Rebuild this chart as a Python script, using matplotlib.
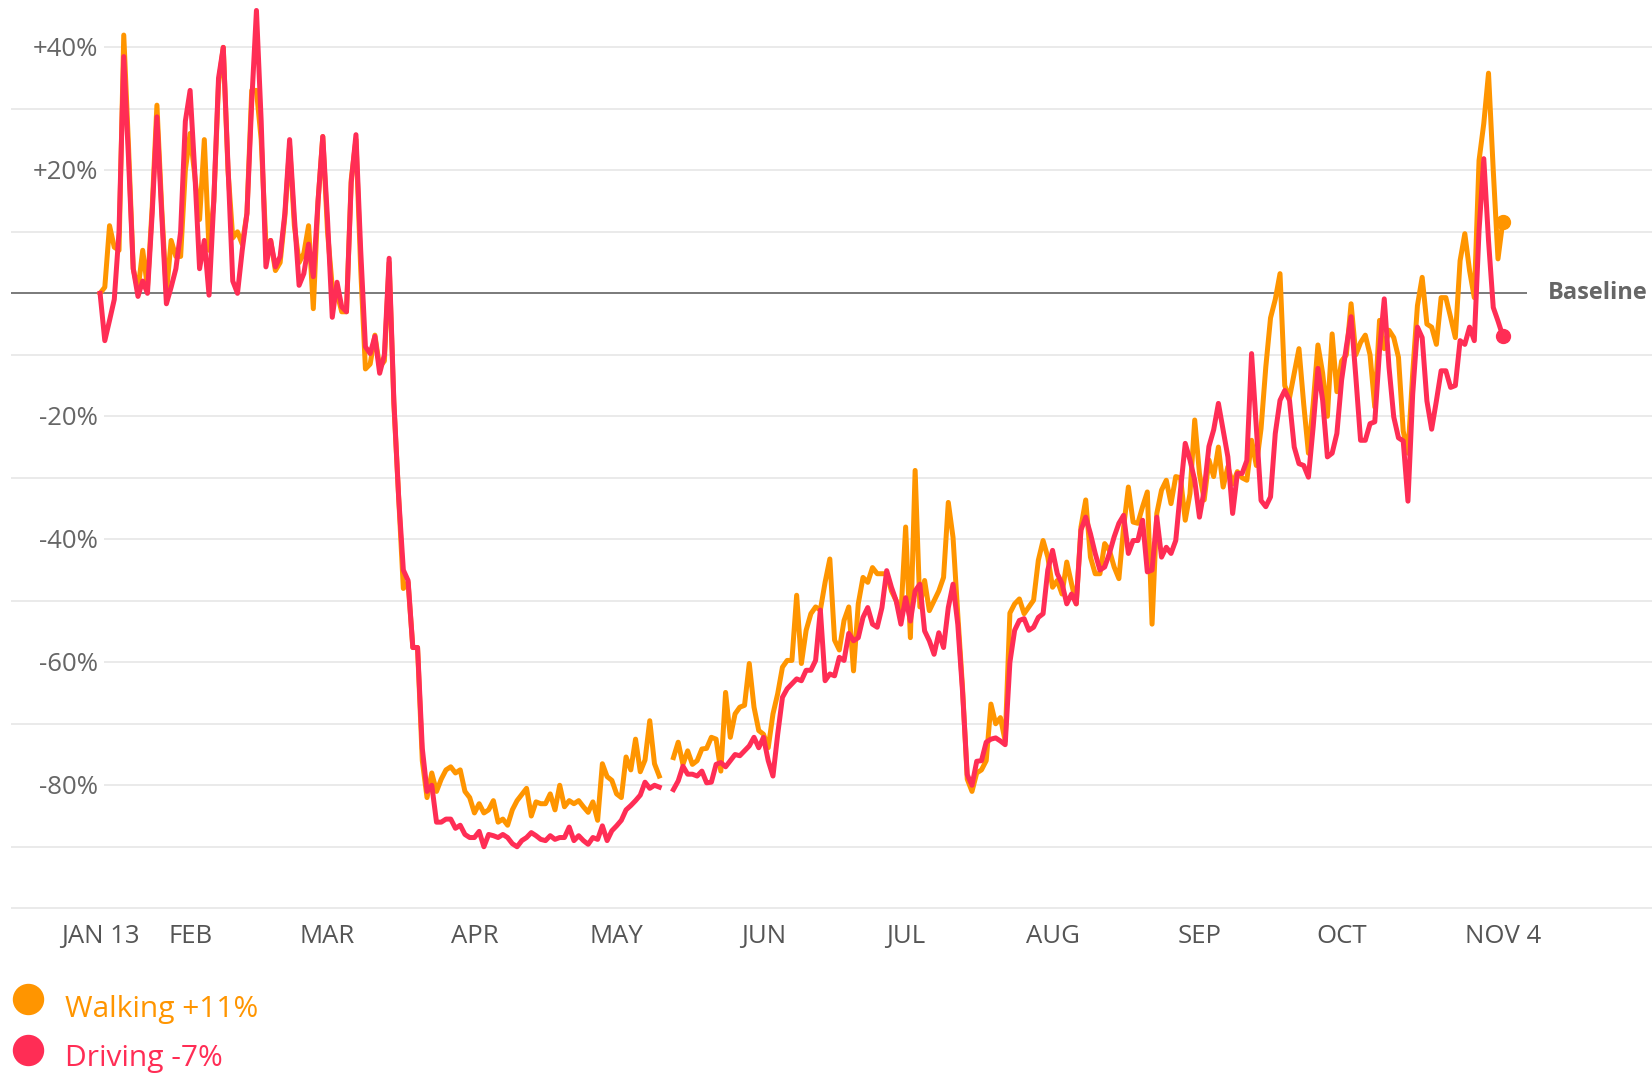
import numpy as np
import pandas as pd
import matplotlib
matplotlib.use('Agg')
import matplotlib.pyplot as plt
from matplotlib import transforms
from matplotlib.lines import Line2D

plt.rcParams['font.family'] = ['Open Sans', 'DejaVu Sans']

# === DATA: daily change vs. baseline (Jan 13), in % === #
inicio = '2020-01-13'
nan = np.nan

caminhada = [
    0, 1, 11, 7.5, 7, 42, 24, 4, 0.5, 7,                               # 0
    1, 14, 30.6, 14, 0, 8.6, 6, 6, 20, 26,                             # 10
    19, 12, 25, 7, 15, 34, 40, 20, 9, 10,                              # 20
    8, 13, 33, 33, 25, 8, 8.6, 3.7, 5, 12.5,                           # 30
    24, 11, 5, 6.5, 11, -2.5, 15, 25.5, 10, 1,                         # 40
    0, -3, -3, 18.5, 25, 4, -12.3, -11.5, -6.8, -12,                   # 50
    -11, 5, -18, -33, -48, -47, -57.6, -57.6, -76, -82,                # 60
    -78, -81, -79, -77.5, -77, -78, -77.5, -81, -82, -84.5,            # 70
    -83, -84.5, -84, -82.5, -86, -85.5, -86.5, -84, -82.5, -81.5,      # 80
    -80.5, -85, -82.7, -83, -83, -81.4, -84, -80, -83.5, -82.5,        # 90
    -83, -82.5, -83.5, -84.4, -82.7, -85.7, -76.5, -78.6, -79.2, -81.4,  # 100
    -82, -75.4, -77.5, -72.5, -77.8, -75.9, -69.5, -76.5, -78.5, nan,  # 110
    nan, -75.5, -73, -76.6, -74.4, -76.6, -76, -74.1, -74, -72.2,      # 120
    -72.5, -77.7, -64.9, -72.2, -68.4, -67.3, -67, -60.2, -67.3, -71.1,  # 130
    -71.7, -73.9, -68.4, -65.1, -60.8, -59.7, -59.7, -49.1, -60.2, -54.8,  # 140
    -52.1, -51, -51.5, -47, -43.2, -56.4, -58, -53.2, -51, -61.4,      # 150
    -50.5, -46.2, -47, -44.6, -45.6, -45.6, -45.6, -48.4, -50, -52.2,  # 160
    -38, -56, -28.8, -51, -46.7, -51.6, -50, -48.4, -46.2, -34,        # 170
    -39.7, -52.2, -64.1, -79, -81, -78, -77.5, -76, -66.8, -70,        # 180
    -69, -72.8, -52, -50.5, -49.7, -52.1, -51, -49.9, -43.4, -40.2,    # 190
    -42.9, -47.8, -46.7, -48.9, -43.7, -47.2, -50.5, -38, -33.6, -42.9,  # 200
    -45.6, -45.6, -40.7, -41.8, -44.5, -46.4, -38, -31.5, -37.2, -37.4,  # 210
    -34.7, -32.3, -53.8, -35.8, -32, -30.4, -34.2, -29.8, -30, -36.9,  # 220
    -32.6, -20.6, -29.3, -33.6, -27.1, -29.8, -25, -31.5, -28.2, -31,  # 230
    -29, -30, -30.4, -23.9, -28, -22, -12, -4, -1, 3.2,                # 240
    -15, -17, -13, -9, -18, -26, -18, -8.4, -13, -20,                  # 250
    -6.6, -16, -11, -10, -1.7, -10, -8, -6.8, -10, -18.5,              # 260
    -4.4, -9, -6, -7.2, -10.4, -22.4, -26, -13, -2, 2.6,               # 270
    -5, -5.5, -8.3, -0.7, -0.7, -3.9, -7.2, 5.3, 9.7, 3.7,             # 280
    -0.7, 21.6, 27.6, 35.8, 20, 5.6, 11.6,                             # 290
]

direcao = [
    0, -7.7, -4.4, -1, 10, 38.5, 22, 4, -0.5, 2,                       # 0
    0, 13, 28.7, 13, -1.7, 1, 4, 10, 28, 33,                           # 10
    19.5, 4, 8.6, -0.3, 15, 35, 40, 20.6, 2, 0,                        # 20
    7, 13, 31, 46, 28, 4.3, 8.6, 4.3, 6, 13,                           # 30
    25, 12.4, 1.3, 3.2, 8, 2.7, 15, 25.5, 12, -3.9,                    # 40
    1.8, -2.2, -3, 18, 25.8, 7, -8.7, -9.8, -7, -13,                   # 50
    -10, 5.7, -17.5, -33, -45, -46.7, -57.6, -57.6, -74, -81,          # 60
    -80, -86, -86, -85.5, -85.5, -87, -86.5, -88, -88.5, -88.5,        # 70
    -87.5, -90, -88, -88.2, -88.5, -88, -88.5, -89.5, -90, -89,        # 80
    -88.5, -87.7, -88.2, -88.8, -89, -88.2, -88.8, -88.5, -88.5, -86.8,  # 90
    -89, -88.2, -89, -89.6, -88.5, -88.8, -86.6, -89, -87.4, -86.6,    # 100
    -85.7, -84, -83.3, -82.5, -81.6, -79.5, -80.5, -80, -80.3, nan,    # 110
    nan, -80.7, -79.3, -76.9, -78.2, -78.2, -78.5, -77.7, -79.6, -79.5,  # 120
    -76.6, -76.3, -77, -76, -75, -75.2, -74.4, -73.6, -72.2, -73.9,    # 130
    -72.2, -76, -78.5, -71.7, -65.7, -64.3, -63.5, -62.7, -63, -61.3,  # 140
    -61.3, -59.7, -51.5, -63, -61.9, -62.2, -59.2, -59.7, -55.3, -56.5,  # 150
    -56, -52.7, -51.1, -53.8, -54.3, -51.1, -45.1, -47.8, -50, -53.8,  # 160
    -49.5, -53.3, -48.4, -47.3, -54.9, -56.5, -58.7, -55.2, -57.6, -51.1,  # 170
    -47.3, -53.8, -64.7, -78.3, -80, -76.1, -76, -73, -72.5, -72.3,    # 180
    -72.8, -73.4, -60, -54.8, -53.2, -52.9, -54.8, -54.3, -52.7, -52.1,  # 190
    -45, -41.8, -45.6, -47.2, -50.5, -48.9, -50.5, -38.5, -36.4, -39.1,  # 200
    -42.3, -45, -44.5, -42.3, -39.6, -37.4, -36.1, -42.3, -40.2, -40.2,  # 210
    -36.9, -45.3, -45, -36.4, -42.9, -41.3, -42.3, -40.2, -32, -24.4,  # 220
    -27.1, -30.4, -36.4, -32, -24.9, -22.2, -17.9, -22.3, -26.6, -35.8,  # 230
    -29.3, -29.3, -27.2, -9.8, -21.7, -33.7, -34.7, -33.1, -22.8, -17.4,  # 240
    -15.8, -17.4, -25, -27.7, -28, -29.9, -21.7, -12.2, -17.4, -26.6,  # 250
    -26, -22.8, -14.1, -8.7, -3.8, -13.6, -23.9, -23.9, -21.2, -20.9,  # 260
    -9.3, -0.9, -12, -20.1, -23.5, -24, -33.8, -16.4, -5.5, -7.2,      # 270
    -17.5, -22.1, -17.5, -12.6, -12.6, -15.3, -15, -7.7, -8.3, -5.5,   # 280
    -7.7, 10.2, 21.9, 8.6, -2.3, -4.5, -6.9,                           # 290
]

rotulos_x = ['JAN 13', 'FEB', 'MAR', 'APR', 'MAY', 'JUN', 'JUL', 'AUG', 'SEP', 'OCT', 'NOV 4']
datas_x = ['2020-01-13', '2020-02-01', '2020-03-01', '2020-04-01', '2020-05-01', '2020-06-01',
           '2020-07-01', '2020-08-01', '2020-09-01', '2020-10-01', '2020-11-04']
rotulos_y = {40: '+40%', 20: '+20%', -20: '-20%', -40: '-40%', -60: '-60%', -80: '-80%'}

cor_caminhada = '#FF9500'
cor_direcao = '#FF2D55'

datas = pd.date_range(inicio, periods=len(caminhada), freq='D')
t0 = datas[0]
dia = pd.Timedelta(days=1)

# === FIGURE === #
fig = plt.figure(figsize=(16.52, 10.76), dpi=100)
ax = fig.add_axes([10.5 / 1652, 1 - 914.4 / 1076, 1 - 10.5 / 1652, 914.4 / 1076])
ax.set_xlim(t0 - 18.9 * dia, t0 + 327.5 * dia)
ax.set_ylim(-101, 47.7)
ax.axis('off')

# gridlines every 10%; labelled ones start after the label
for v in range(-100, 41, 10):
    if v == 0:
        continue
    x_ini = t0 + 0.8 * dia if v in rotulos_y else t0 - 18.9 * dia
    ax.hlines(v, x_ini, t0 + 327.5 * dia, color='#e8e8e8', lw=1.3, zorder=1)

for v, txt in rotulos_y.items():
    ax.text(t0 - 0.4 * dia, v - 0.4, txt, ha='right', va='center', fontsize=18.5, color='#666666')

# baseline
ax.hlines(0, t0 - 18.9 * dia, t0 + 301.2 * dia, color='#7a7a7a', lw=1.4, zorder=2)
ax.text(t0 + 305.5 * dia, 0, 'Baseline', ha='left', va='center', fontsize=17,
        fontweight='bold', color='#666666')

# series
ax.plot(datas, caminhada, color=cor_caminhada, lw=3.6, solid_joinstyle='round', zorder=3)
ax.plot(datas, direcao, color=cor_direcao, lw=3.6, solid_joinstyle='round', zorder=4)
ax.plot(datas[-1], caminhada[-1], 'o', color=cor_caminhada, ms=10, zorder=5)
ax.plot(datas[-1], direcao[-1], 'o', color=cor_direcao, ms=10, zorder=5)

# x labels
trans = transforms.blended_transform_factory(ax.transData, fig.transFigure)
for d, txt in zip(datas_x, rotulos_x):
    ax.text(pd.Timestamp(d), 1 - 936.5 / 1076, txt, transform=trans, ha='center', va='center',
            fontsize=18.5, color='#555555', clip_on=False)

# legend
itens = [('Walking +11%', cor_caminhada, 998.8, 1017.5),
         ('Driving -7%', cor_direcao, 1050, 1066)]
for txt, cor, y_bola, y_txt in itens:
    fig.add_artist(Line2D([28.4 / 1652], [1 - y_bola / 1076], marker='o', markersize=21.6,
                          color=cor, transform=fig.transFigure))
    fig.text(65 / 1652, 1 - y_txt / 1076, txt, ha='left', va='baseline', fontsize=21.5, color=cor)

fig.savefig('out.png', dpi=100)
